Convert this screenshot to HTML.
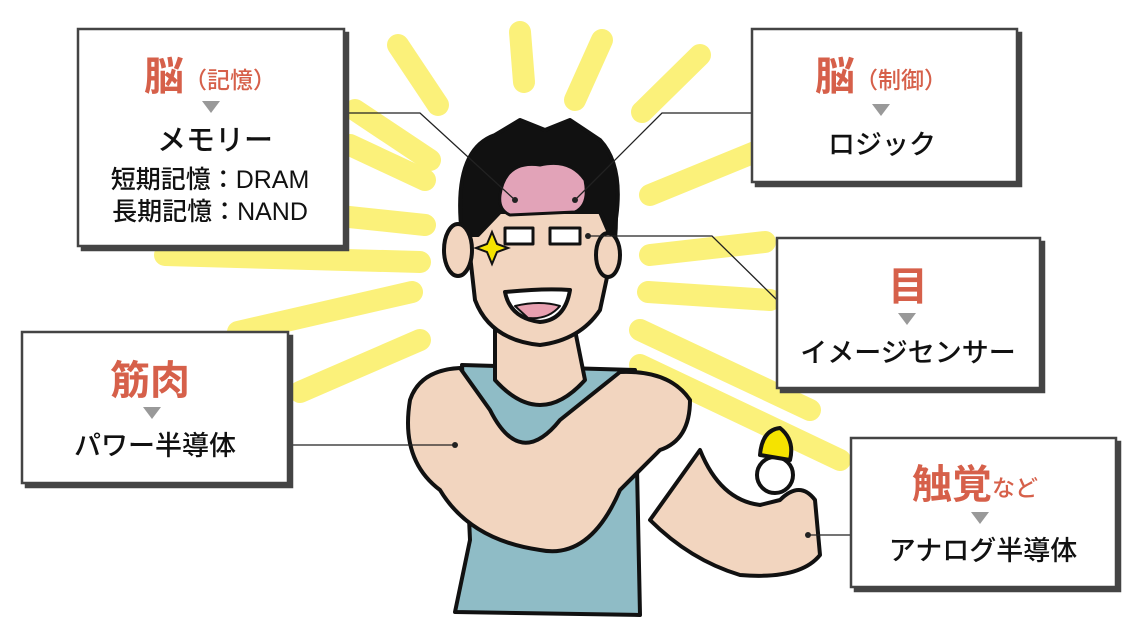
<!DOCTYPE html>
<html><head><meta charset="utf-8"><style>
html,body{margin:0;padding:0;background:#fff}
svg{display:block}
text{font-family:"Liberation Sans","Noto Sans CJK JP",sans-serif}
</style></head><body>
<svg width="1140" height="641" viewBox="0 0 1140 641" xmlns="http://www.w3.org/2000/svg">
<g stroke="#fbf17a" stroke-width="22" stroke-linecap="round" fill="none">
<line x1="398" y1="45" x2="438" y2="105"/>
<line x1="520" y1="32" x2="524" y2="82"/>
<line x1="602" y1="40" x2="575" y2="100"/>
<line x1="700" y1="55" x2="642" y2="112"/>
<line x1="355" y1="110" x2="430" y2="160"/>
<line x1="350" y1="145" x2="425" y2="180"/>
<line x1="330" y1="215" x2="425" y2="225"/>
<line x1="165" y1="255" x2="420" y2="262"/>
<line x1="238" y1="332" x2="412" y2="292"/>
<line x1="300" y1="392" x2="420" y2="340"/>
<line x1="650" y1="195" x2="760" y2="150"/>
<line x1="650" y1="255" x2="765" y2="242"/>
<line x1="648" y1="292" x2="770" y2="300"/>
<line x1="640" y1="330" x2="810" y2="410"/>
<line x1="640" y1="365" x2="840" y2="460"/>
</g>
<g stroke="#111" stroke-width="4" stroke-linejoin="round">
<path d="M462 365 L635 370 L640 615 L455 612 L470 540 Z" fill="#8fbcc6"/>
<path d="M495 330 L575 330 L585 380 Q540 430 495 380 Z" fill="#f2d5bf"/>
<path d="M780 500 Q800 480 815 500 L820 555 Q800 580 740 575 Q690 560 650 520 L700 450 Q720 500 760 505 Z" fill="#f2d5bf"/>
<circle cx="775" cy="475" r="18" fill="#fff"/>
<path d="M760 455 Q762 430 780 428 Q795 440 790 460 Z" fill="#f5e300"/>
<path d="M410 400 Q420 370 460 368 L490 410 Q520 470 560 420 L620 372 Q670 370 690 400 Q690 440 660 450 L620 490 Q590 560 540 550 Q470 540 440 490 Q400 460 410 400 Z" fill="#f2d5bf"/>
<path d="M465 210 Q470 150 510 140 L600 145 Q620 180 615 240 L600 310 Q580 340 540 345 Q490 340 475 300 Z" fill="#f2d5bf"/>
<path d="M462 235 Q452 150 495 135 L520 120 L545 130 L570 120 L600 140 Q628 170 612 240 L600 212 L500 212 L478 235 Z" fill="#111"/>
<path d="M500 195 Q505 160 540 165 Q570 158 585 180 Q590 205 575 212 L510 215 Q498 210 500 195 Z" fill="#e2a3b8" stroke-width="3"/>
<ellipse cx="458" cy="250" rx="14" ry="26" fill="#f2d5bf"/>
<ellipse cx="608" cy="255" rx="12" ry="22" fill="#f2d5bf"/>
<rect x="505" y="228" width="28" height="16" fill="#fff" stroke-width="3"/>
<rect x="550" y="228" width="30" height="16" fill="#fff" stroke-width="3"/>
<path d="M505 292 Q545 288 570 290 Q565 320 540 322 Q510 318 505 292 Z" fill="#fff"/>
<path d="M515 306 Q540 300 560 306 Q548 320 528 318 Z" fill="#e8a0b0" stroke-width="2"/>
</g>
<path d="M492 232 L497 244 L508 248 L497 252 L492 264 L487 252 L476 248 L487 244 Z" fill="#f5e300" stroke="#111" stroke-width="2"/>
<g stroke="#222" stroke-width="1.3" fill="none">
<polyline points="345,113 420,113 515,200"/>
<polyline points="752,113 662,113 575,200"/>
<polyline points="588,236 712,236 777,300"/>
<polyline points="288,445 455,445"/>
<polyline points="808,535 851,535"/>
</g>
<g fill="#222"><circle cx="515" cy="200" r="3"/><circle cx="575" cy="200" r="3"/><circle cx="588" cy="236" r="3"/><circle cx="455" cy="445" r="3"/><circle cx="808" cy="535" r="3"/></g>
<g stroke="#444" stroke-width="2.5">
<rect x="82" y="33" width="266" height="217" fill="#444"/>
<rect x="78" y="29" width="266" height="217" fill="#fff"/>
<rect x="756" y="33" width="265" height="153" fill="#444"/>
<rect x="752" y="29" width="265" height="153" fill="#fff"/>
<rect x="781" y="242" width="263" height="150" fill="#444"/>
<rect x="777" y="238" width="263" height="150" fill="#fff"/>
<rect x="26" y="336" width="266" height="151" fill="#444"/>
<rect x="22" y="332" width="266" height="151" fill="#fff"/>
<rect x="855" y="442" width="265" height="149" fill="#444"/>
<rect x="851" y="438" width="265" height="149" fill="#fff"/>
</g>
<g fill="#999">
<path d="M202 101 L220 101 L211 113 Z"/>
<path d="M872 104 L890 104 L881 116 Z"/>
<path d="M898 313 L916 313 L907 325 Z"/>
<path d="M143 407 L161 407 L152 419 Z"/>
<path d="M971 512 L989 512 L980 524 Z"/>
</g>
<g font-weight="bold" fill="#d6604a">
<text x="144" y="90" font-size="40">脳</text><text x="184" y="88" font-size="23" font-weight="500">（記憶）</text>
<text x="815" y="90" font-size="40">脳</text><text x="855" y="88" font-size="23" font-weight="500">（制御）</text>
<text x="888" y="300" font-size="40">目</text>
<text x="110" y="394" font-size="40">筋肉</text>
<text x="912" y="498" font-size="40">触覚</text><text x="992" y="496" font-size="23" font-weight="500">など</text>
</g>
<g fill="#111" font-size="27" text-anchor="middle" font-weight="500">
<text x="215" y="150" font-size="29">メモリー</text>
<text x="210" y="188" font-size="25">短期記憶：DRAM</text>
<text x="210" y="220" font-size="25">長期記憶：NAND</text>
<text x="882" y="154">ロジック</text>
<text x="908" y="362">イメージセンサー</text>
<text x="155" y="455">パワー半導体</text>
<text x="983" y="560">アナログ半導体</text>
</g>
</svg>
</body></html>
